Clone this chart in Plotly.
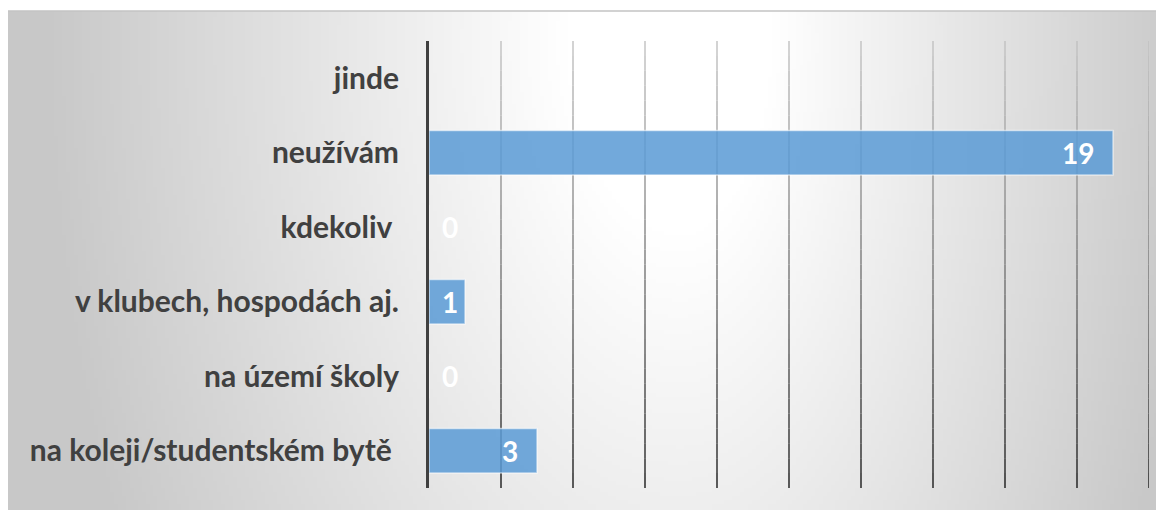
import base64
import struct
import zlib

import numpy as np
import plotly.graph_objects as go

# ---------------- data ----------------
categories = [
    "na koleji/studentském bytě\u00a0",
    "na území školy",
    "v klubech, hospodách aj.",
    "kdekoliv\u00a0",
    "neužívám",
    "jinde",
]
values = [3, 0, 1, 0, 19, None]
x_max = 20
x_step = 2

# ---------------- layout geometry ----------------
PAGE_W, PAGE_H = 1164, 510
OFF = 8  # default body margin of the html page
W, H = PAGE_W - OFF, PAGE_H - OFF
card_left, card_top = 7 - OFF, 11 - OFF
plot_left, plot_right = 429 - OFF, 1149 - OFF
plot_top, plot_bottom = 41 - OFF, 488 - OFF


def px_x(p):
    return p / W


def px_y(p):
    return (H - p) / H


# ---------------- background gradient as PNG ----------------
def gray_png(arr):
    h, w = arr.shape
    raw = b"".join(b"\x00" + arr[i].tobytes() for i in range(h))

    def chunk(tag, data):
        c = struct.pack(">I", len(data)) + tag + data
        return c + struct.pack(">I", zlib.crc32(tag + data) & 0xFFFFFFFF)

    ihdr = struct.pack(">IIBBBBB", w, h, 8, 0, 0, 0, 0)
    png = (b"\x89PNG\r\n\x1a\n" + chunk(b"IHDR", ihdr)
           + chunk(b"IDAT", zlib.compress(raw, 9)) + chunk(b"IEND", b""))
    return "data:image/png;base64," + base64.b64encode(png).decode()


step = 4
x_start = max(card_left, 0)
xs = np.arange(x_start, W + step, step, dtype=float) + OFF
ys = np.arange(max(card_top, 0), H + step, step, dtype=float) + OFF
XX, YY = np.meshgrid(xs, ys)
cx, cy = 680.0, 40.0
rx = np.where(XX > cx, 520.0, 640.0)
ry = 1100.0
r = np.sqrt(((XX - cx) / rx) ** 2 + ((YY - cy) / ry) ** 2)
t = np.clip((r - 0.18) / 0.82, 0, 1)
bright = (255 - 55 * t).astype(np.uint8)
bg_src = gray_png(bright)

# ---------------- figure ----------------
fig = go.Figure()

fig.add_trace(
    go.Bar(
        y=categories,
        x=values,
        orientation="h",
        marker=dict(color="rgba(91,155,213,0.86)",
                    line=dict(color="rgba(255,255,255,0.55)", width=1.5)),
        hoverinfo="x+y",
        showlegend=False,
    )
)

# data labels (white, bold, inside end)
px_per_unit = (plot_right - plot_left) / x_max
annotations = []
for cat, v in zip(categories, values):
    if v is None:
        continue
    shift = -17 if v * px_per_unit - 17 >= 31 else 31 - v * px_per_unit
    annotations.append(
        dict(
            x=v, y=cat, xref="x", yref="y", text=str(v), showarrow=False,
            xanchor="right", yanchor="middle", xshift=shift, yshift=0,
            font=dict(family="Lato", size=28, color="white", weight="bold"),
        )
    )

# gradient gridlines (segmented shapes at each x tick)
shapes = []
n_seg = 30
grid_ticks = list(range(x_step, x_max + 1, x_step))
y0p, y1p = px_y(plot_bottom), px_y(plot_top)
for k in range(n_seg):
    f = (k + 0.5) / n_seg  # 0 at bottom, 1 at top
    g = int(round(20 + (195 - 20) * f ** 0.8))
    col = f"rgb({g},{g},{g})"
    a = y0p + (y1p - y0p) * k / n_seg
    b = y0p + (y1p - y0p) * (k + 1) / n_seg
    for tv in grid_ticks:
        shapes.append(
            dict(type="line", xref="x", yref="paper", x0=tv, x1=tv, y0=a, y1=b,
                 line=dict(color=col, width=1.4), layer="below")
        )

# card border
shapes.append(
    dict(type="rect", xref="paper", yref="paper",
         x0=px_x(card_left), x1=1.02, y0=-0.02, y1=px_y(card_top),
         line=dict(color="#c4c4c4", width=1.6), fillcolor="rgba(0,0,0,0)", layer="above")
)

fig.update_layout(
    width=W,
    height=H,
    margin=dict(l=0, r=0, t=0, b=0),
    paper_bgcolor="white",
    plot_bgcolor="rgba(0,0,0,0)",
    bargap=0.4,
    showlegend=False,
    images=[
        dict(source=bg_src, xref="paper", yref="paper",
             x=px_x(x_start), y=px_y(max(card_top, 0)),
             sizex=(W - x_start) / W, sizey=(H - max(card_top, 0)) / H,
             xanchor="left", yanchor="top", sizing="stretch", layer="below")
    ],
    shapes=shapes,
    annotations=annotations,
    xaxis=dict(
        domain=[px_x(plot_left), px_x(plot_right)],
        range=[0, x_max],
        dtick=x_step,
        showgrid=False,
        zeroline=False,
        showticklabels=False,
        showline=False,
        fixedrange=True,
        automargin=False,
    ),
    yaxis=dict(
        domain=[px_y(plot_bottom), px_y(plot_top)],
        type="category",
        categoryorder="array",
        categoryarray=categories,
        showgrid=False,
        zeroline=False,
        showline=True,
        linecolor="#404040",
        linewidth=3,
        ticks="",
        ticklabelstandoff=21,
        tickfont=dict(family="Lato", size=30, color="#404040", weight="bold"),
        fixedrange=True,
        automargin=False,
    ),
)

fig.write_html("out.html")
